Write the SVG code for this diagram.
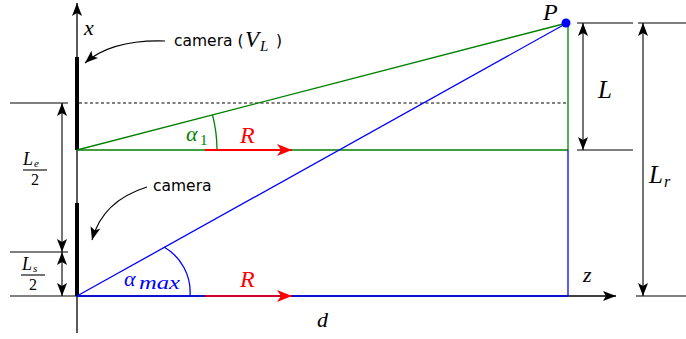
<svg xmlns="http://www.w3.org/2000/svg" width="686" height="339" viewBox="0 0 686 339">
<style>
.ax{stroke:#000;stroke-width:1.3;fill:none}
.dim{stroke:#000;stroke-width:1.1;fill:none}
.g{stroke:#008000;stroke-width:1.3;fill:none}
.b{stroke:#0000ff;stroke-width:1.3;fill:none}
.r{stroke:#ff0000;stroke-width:2;fill:none}
.m{font-family:"Liberation Serif","DejaVu Serif",serif;font-style:italic}
.s{font-family:"DejaVu Sans","Liberation Sans",sans-serif;font-size:15.5px}
.n{font-family:"Liberation Serif","DejaVu Serif",serif}
</style>
<defs>
<marker id="ah" viewBox="-14 -6 15 12" refX="0" refY="0" markerWidth="15" markerHeight="12" markerUnits="userSpaceOnUse" orient="auto">
<path d="M0,0 L-13,-5 L-10,0 L-13,5 Z" fill="#000"/>
</marker>
<marker id="ahs" viewBox="-14 -6 15 12" refX="0" refY="0" markerWidth="15" markerHeight="12" markerUnits="userSpaceOnUse" orient="auto-start-reverse">
<path d="M0,0 L-13,-5 L-10,0 L-13,5 Z" fill="#000"/>
</marker>
<marker id="ar" viewBox="-16 -7 17 14" refX="0" refY="0" markerWidth="17" markerHeight="14" markerUnits="userSpaceOnUse" orient="auto">
<path d="M0,0 L-15,-6 L-11,0 L-15,6 Z" fill="#ff0000"/>
</marker>
</defs>
<g id="connectors">
<line class="ax" x1="77" y1="333" x2="77" y2="3" marker-end="url(#ah)"/>
<line class="ax" x1="77" y1="296" x2="616" y2="296" marker-end="url(#ah)"/>
<line stroke="#000" stroke-width="4" x1="77" y1="57" x2="77" y2="150"/>
<line stroke="#000" stroke-width="4" x1="77" y1="203" x2="77" y2="296"/>
<line stroke="#000" stroke-width="1" stroke-dasharray="3,2.5" x1="79" y1="103" x2="567" y2="103"/>
<line class="g" x1="77" y1="150" x2="567" y2="23"/>
<line class="g" x1="77" y1="150" x2="568" y2="150"/>
<line class="g" x1="568" y1="23" x2="568" y2="150"/>
<path class="g" d="M212.5,114.9 A140,140 0 0 1 217,150"/>
<line class="b" x1="77" y1="296" x2="567" y2="23"/>
<line class="b" x1="77" y1="296" x2="568" y2="296"/>
<line class="b" x1="568" y1="150" x2="568" y2="296"/>
<path class="b" d="M164,247 A52,52 0 0 1 190,296"/>
<line class="r" x1="205" y1="150" x2="292" y2="150" marker-end="url(#ar)"/>
<line class="r" stroke-opacity="0.8" x1="205" y1="296" x2="292" y2="296" marker-end="url(#ar)"/>
<line class="dim" x1="10" y1="103" x2="68" y2="103"/>
<line class="dim" x1="10" y1="252" x2="68" y2="252"/>
<line class="dim" x1="10" y1="296" x2="77" y2="296"/>
<line class="dim" x1="62" y1="103" x2="62" y2="252" marker-start="url(#ahs)" marker-end="url(#ah)"/>
<line class="dim" x1="62" y1="252" x2="62" y2="296" marker-start="url(#ahs)" marker-end="url(#ah)"/>
<line class="dim" x1="577" y1="23" x2="633" y2="23"/>
<line class="dim" x1="638" y1="23" x2="686" y2="23"/>
<line class="dim" x1="577" y1="150" x2="633" y2="150"/>
<line class="dim" x1="636" y1="296" x2="686" y2="296"/>
<line class="dim" x1="583" y1="23" x2="583" y2="150" marker-start="url(#ahs)" marker-end="url(#ah)"/>
<line class="dim" x1="643" y1="23" x2="643" y2="296" marker-start="url(#ahs)" marker-end="url(#ah)"/>
<path class="dim" d="M165,41 C130,40 103,47 85,63" marker-end="url(#ah)"/>
<path class="dim" d="M147,187 C118,196 99,214 92,240" marker-end="url(#ah)"/>
</g>
<g id="P">
<circle cx="566" cy="23" r="4.5" fill="#0000ff"/>
<text class="m" x="543" y="20" font-size="24">P</text>
</g>
<g id="labels">
<text class="m" x="84" y="35" font-size="22">x</text>
<text class="s" x="174" y="46">camera (</text>
<text class="m" x="245" y="47" font-size="23">V</text>
<text class="m" x="260" y="51" font-size="15">L</text>
<text class="s" x="276" y="46">)</text>
<text class="s" x="153" y="191">camera</text>
<text class="m" x="186" y="141" font-size="22" fill="#008000">α</text>
<text class="n" x="200" y="145" font-size="15" fill="#008000">1</text>
<text class="m" x="240" y="143" font-size="24" fill="#ff0000">R</text>
<text class="m" x="240" y="287" font-size="24" fill="#ff0000">R</text>
<text class="m" x="124" y="286" font-size="22" fill="#0000ff">α</text>
<text class="m" x="139" y="289" font-size="18" fill="#0000ff" textLength="41" lengthAdjust="spacingAndGlyphs">max</text>
<text class="m" x="598" y="98" font-size="25">L</text>
<text class="m" x="649" y="183" font-size="25">L</text>
<text class="m" x="664" y="187" font-size="16">r</text>
<text class="m" x="583" y="282" font-size="22">z</text>
<text class="m" x="317" y="327" font-size="22">d</text>
<text class="m" x="23" y="165" font-size="18">L</text>
<text class="m" x="34" y="166.5" font-size="11">e</text>
<line class="dim" x1="23" y1="170" x2="47" y2="170"/>
<text class="n" x="35" y="185" font-size="16" text-anchor="middle">2</text>
<text class="m" x="22" y="270" font-size="18">L</text>
<text class="m" x="33" y="272" font-size="11">s</text>
<line class="dim" x1="21" y1="275" x2="45" y2="275"/>
<text class="n" x="33" y="290" font-size="16" text-anchor="middle">2</text>
</g>
</svg>
